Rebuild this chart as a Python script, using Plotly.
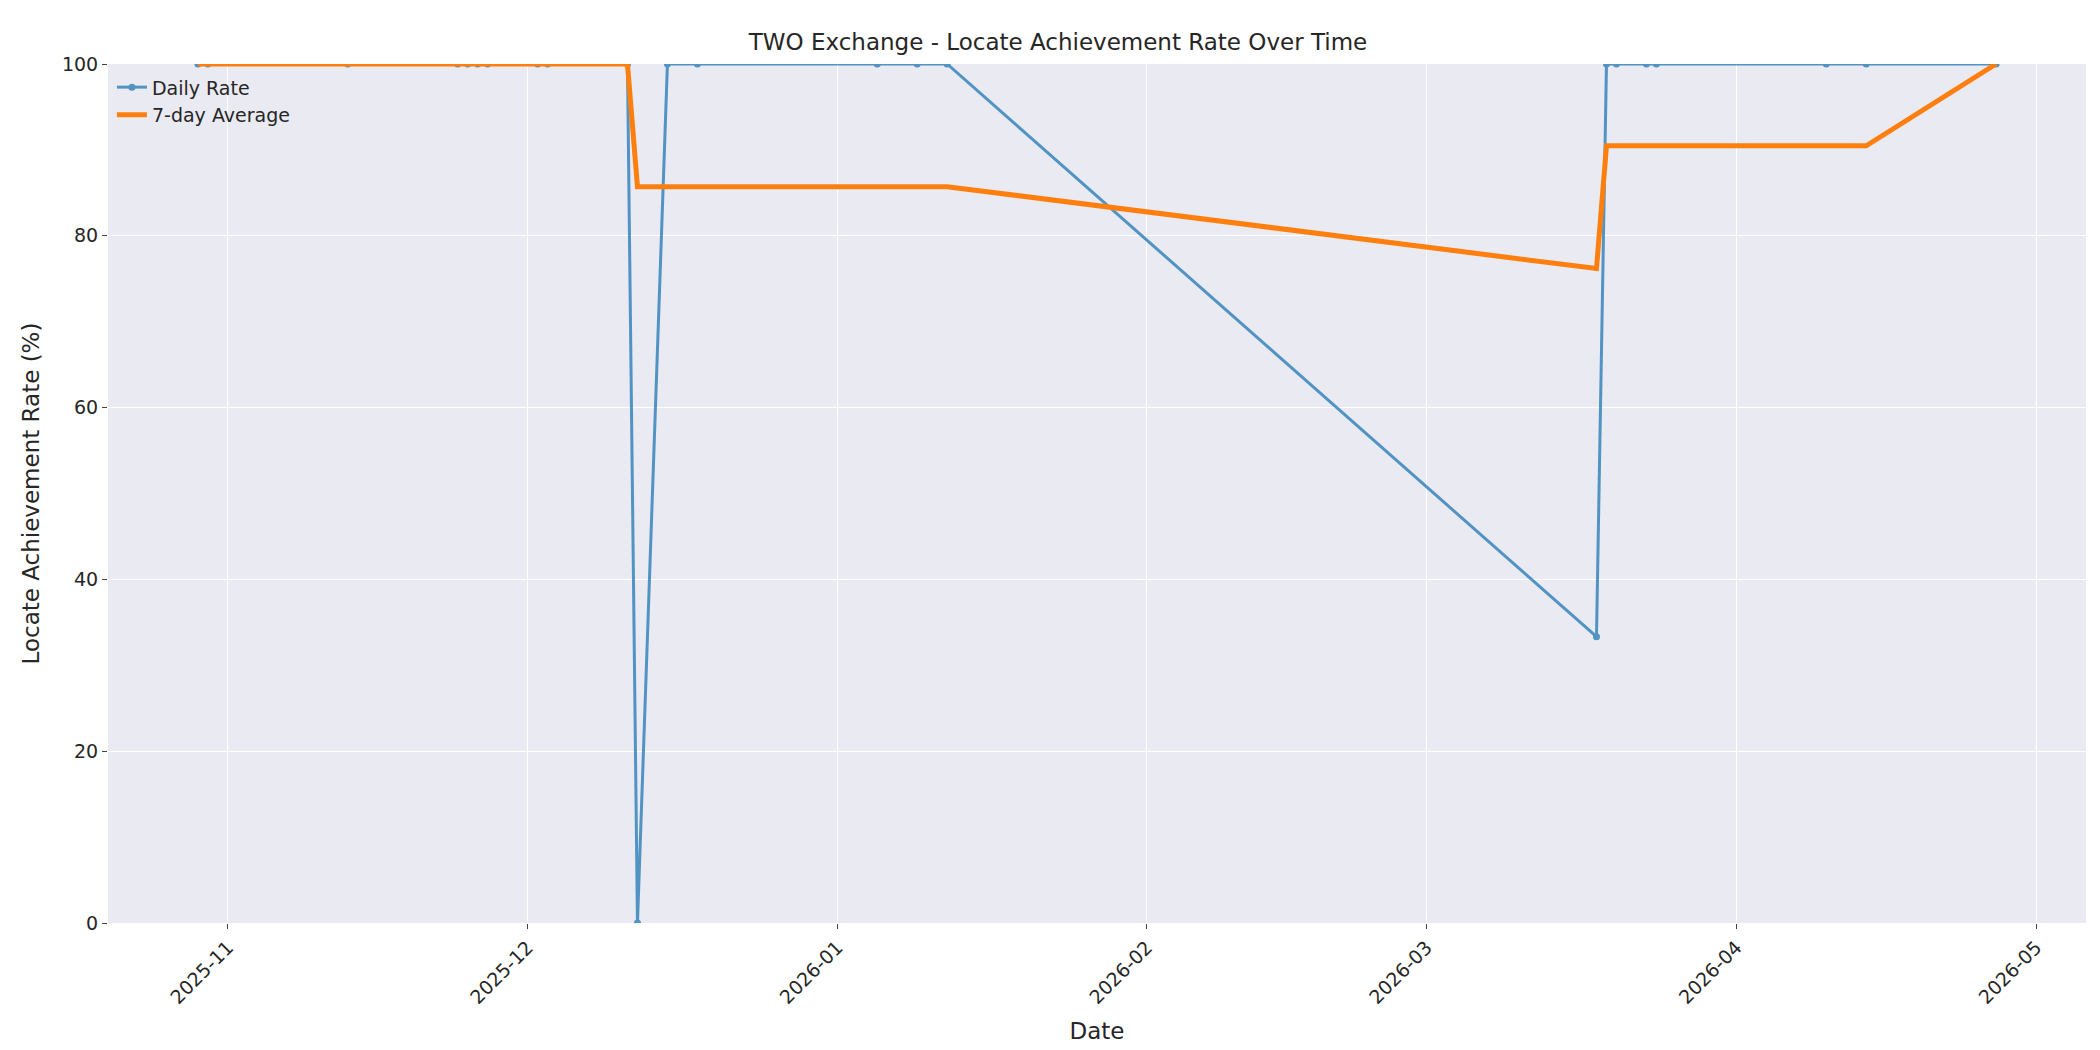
import pandas as pd
import plotly.graph_objects as go

dates = ["2025-10-29","2025-10-30","2025-11-13","2025-11-24","2025-11-25","2025-11-26","2025-11-27",
         "2025-12-02","2025-12-03","2025-12-11","2025-12-12","2025-12-15","2025-12-18",
         "2026-01-05","2026-01-09","2026-01-12","2026-03-18","2026-03-19","2026-03-20",
         "2026-03-23","2026-03-24","2026-04-10","2026-04-14","2026-04-27"]
rates = [100,100,100,100,100,100,100,100,100,100,0,100,100,100,100,100,33.33,100,100,100,100,100,100,100]

s = pd.Series(rates, index=pd.to_datetime(dates))
avg = s.rolling(7, min_periods=1).mean()

fig = go.Figure()
fig.add_trace(go.Scatter(x=s.index, y=s.values, mode="lines+markers", name="Daily Rate",
                         line=dict(color="#1f77b4", width=3), marker=dict(size=7), opacity=0.75))
fig.add_trace(go.Scatter(x=avg.index, y=avg.values, mode="lines", name="7-day Average",
                         line=dict(color="#ff7f0e", width=5)))
fig.update_layout(
    width=2100, height=1050, paper_bgcolor="white", plot_bgcolor="#EAEAF2",
    font=dict(family="DejaVu Sans", size=19, color="#262626"),
    title=dict(text="TWO Exchange - Locate Achievement Rate Over Time", x=0.5, y=0.975, font=dict(size=23)),
    margin=dict(l=100, r=22, t=56, b=135),
    legend=dict(x=0.002, y=0.995, bgcolor="rgba(0,0,0,0)", font=dict(size=19)),
    showlegend=True,
)
fig.update_xaxes(title_text="Date", range=["2025-10-20", "2026-05-06"], dtick="M1", tickformat="%Y-%m",
                 tickangle=-45, gridcolor="white", showline=False, zeroline=False, ticks="outside", ticklen=5, tickcolor="#444")
fig.update_yaxes(title_text="Locate Achievement Rate (%)", range=[0, 100], dtick=20, gridcolor="white",
                 zeroline=False, ticks="outside", ticklen=5, tickcolor="#444")
fig.write_html("out.html")
